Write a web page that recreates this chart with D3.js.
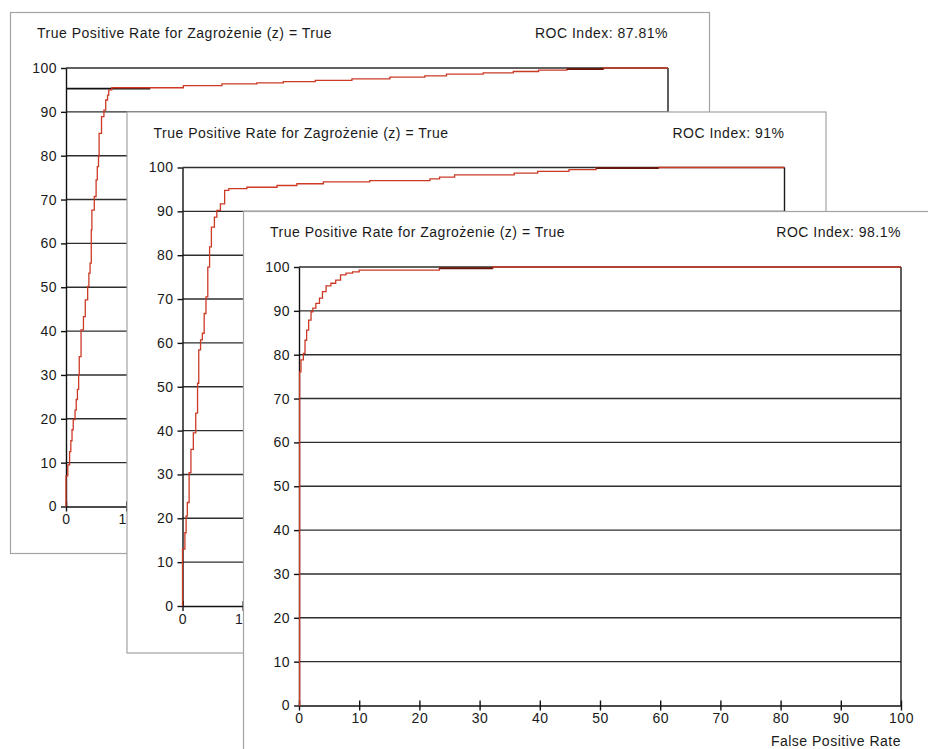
<!DOCTYPE html>
<html>
<head>
<meta charset="utf-8">
<script src="https://cdn.jsdelivr.net/npm/d3@7"></script>
<style>
  html, body { margin: 0; padding: 0; background: #fff; }
  svg { display: block; }
  text { font-family: "Liberation Sans", Arial, sans-serif; font-size: 14px; fill: #1a1a1a; letter-spacing: 0.5px; }
</style>
</head>
<body>
<svg id="chart" width="928" height="749"></svg>
<script>
// ---------- data ----------
const titleText = "True Positive Rate for Zagrożenie (z) = True";
const rocIndex = ["87.81%", "91%", "98.1%"];
const xTicks = [0, 10, 20, 30, 40, 50, 60, 70, 80, 90, 100];
const yTicks = [0, 10, 20, 30, 40, 50, 60, 70, 80, 90, 100];
const xAxisTitle = "False Positive Rate";

// ROC curves as step points [FPR %, TPR %]: at FPR the curve rises to TPR
const roc1 = [[0,0],[0,7],[0.3,8],[0.3,9.5],[0.6,12.5],[0.8,15],[1.0,17.5],[1.2,19.8],[1.5,22],[1.7,24.4],
  [1.9,26.7],[2.1,30],[2.2,34.2],[2.5,40.3],[2.9,43.3],[3.2,47.1],[3.6,50.2],[3.8,53.2],[4.0,55.5],[4.2,63.1],
  [4.3,67.6],[4.7,70.7],[5.0,74.5],[5.2,77.5],[5.4,79.8],[5.5,85.1],[5.9,88.9],[6.3,90.4],[6.6,92.7],[6.9,93.8],
  [7.1,95.0],[7.6,95.5],[19.5,96.0],[25.9,96.4],[31.7,96.6],[36.1,96.9],[41.4,97.2],[47.5,97.5],[53.8,97.9],
  [59.6,98.2],[63.2,98.6],[69.3,98.9],[74.3,99.2],[78.5,99.5],[83.2,99.8],[89.3,100],[100,100]];
const roc2 = [[0,0],[0,13],[0.4,16.7],[0.6,20.5],[0.8,23.6],[1.1,30.4],[1.4,35.7],[1.8,39.5],[2.2,44],[2.5,50.8],
  [2.7,58.4],[3.0,60.7],[3.3,62.2],[3.6,66.7],[3.9,70.5],[4.2,77.3],[4.5,81.9],[4.8,86.4],[5.3,88.7],[5.7,90.2],
  [6.3,91.7],[7.0,94.8],[7.7,95.2],[10.7,95.5],[15.7,95.9],[19.0,96.3],[23.4,96.7],[31.1,97.0],[41.1,97.4],
  [42.7,97.8],[45.2,98.3],[55.1,98.7],[59.0,99.1],[64.2,99.5],[68.7,99.9],[79.1,100],[100,100]];
const roc3 = [[0,0],[0.1,76.1],[0.33,78.8],[0.72,80.3],[1.0,83.3],[1.27,85.6],[1.6,87.9],[2.0,89.8],[2.3,90.6],
  [2.8,91.7],[3.4,92.9],[3.9,94.4],[4.5,95.7],[5.3,96.3],[6.1,97.0],[6.9,98.2],[7.8,98.6],[8.9,98.9],[10.0,99.3],
  [23.3,99.7],[32.2,100],[100,100]];

// darker (overplotted) stretches of each curve: [FPR from, FPR to, TPR]
const dark1 = [[83.2, 89.3, 99.8]];
const dark2 = [[68.7, 79.1, 99.9]];
const dark3 = [[23.3, 32.2, 99.7]];
// black reference stretch in first panel: [FPR from, FPR to, TPR]
const ref1 = [[0, 14, 95.3]];

const panels = [
  { roc: roc1, dark: dark1, ref: ref1, index: rocIndex[0] },
  { roc: roc2, dark: dark2, ref: [],   index: rocIndex[1] },
  { roc: roc3, dark: dark3, ref: [],   index: rocIndex[2] }
];

// ---------- layout ----------
const svg = d3.select("#chart");
const panelW = 699, panelH = 541;
const m = { left: 56, top: 56 };
const plotW = 602, plotH = 438.5;
const offX = 116.5, offY = 99.5;

const x = d3.scaleLinear().domain([0, 100]).range([0, plotW]);
const y = d3.scaleLinear().domain([0, 100]).range([plotH, 0]);

panels.forEach((p, i) => {
  const g = svg.append("g").attr("transform", `translate(${10 + i * offX},${12 + i * offY})`);
  g.append("rect").attr("x", 0.5).attr("y", 0.5).attr("width", panelW).attr("height", panelH)
    .attr("fill", "#fff").attr("stroke", "#a3a3a3").attr("stroke-width", 1.2);

  g.append("text").attr("x", 27).attr("y", 21).attr("dy", "0.36em").text(titleText);

  const plot = g.append("g").attr("transform", `translate(${m.left},${m.top})`);

  plot.append("text").attr("x", plotW).attr("y", 21 - m.top).attr("dy", "0.36em")
    .attr("text-anchor", "end").text("ROC Index: " + p.index);

  // gridlines
  plot.append("g").selectAll("line").data(yTicks.filter(d => d > 0)).join("line")
    .attr("x1", 0).attr("x2", plotW).attr("y1", d => y(d)).attr("y2", d => y(d))
    .attr("stroke", "#2e2e2e").attr("stroke-width", 1.4);

  // right border line
  plot.append("line").attr("x1", plotW).attr("x2", plotW).attr("y1", 0).attr("y2", plotH)
    .attr("stroke", "#1a1a1a").attr("stroke-width", 1.4);

  // y axis
  const ya = plot.append("g").call(d3.axisLeft(y).tickValues(yTicks).tickSize(5).tickPadding(4).tickSizeOuter(0));
  ya.select(".domain").attr("stroke", "#111").attr("stroke-width", 1.4);
  ya.selectAll(".tick line").attr("stroke", "#111").attr("stroke-width", 1.4);
  ya.selectAll(".tick text").attr("font-size", null).attr("font-family", null);

  // x axis
  const xa = plot.append("g").attr("transform", `translate(0,${plotH})`)
    .call(d3.axisBottom(x).tickValues(xTicks).tickSize(5).tickPadding(3).tickSizeOuter(0));
  xa.select(".domain").attr("stroke", "#111").attr("stroke-width", 1.4);
  xa.selectAll(".tick line").attr("y1", -5).attr("y2", 5).attr("stroke", "#111").attr("stroke-width", 1.4);
  xa.selectAll(".tick text").attr("font-size", null).attr("font-family", null);

  // reference stretch
  plot.append("g").selectAll("line").data(p.ref).join("line")
    .attr("x1", d => x(d[0])).attr("x2", d => x(d[1])).attr("y1", d => y(d[2])).attr("y2", d => y(d[2]))
    .attr("stroke", "#111").attr("stroke-width", 1.8);

  // curve
  const line = d3.line().x(d => x(d[0])).y(d => y(d[1])).curve(d3.curveStepAfter);
  plot.append("path").datum(p.roc).attr("d", line).attr("fill", "none")
    .attr("stroke", "#cc3a26").attr("stroke-width", 1.3).attr("stroke-linejoin", "miter");

  plot.append("g").selectAll("line").data(p.dark).join("line")
    .attr("x1", d => x(d[0])).attr("x2", d => x(d[1])).attr("y1", d => y(d[2])).attr("y2", d => y(d[2]))
    .attr("stroke", "#6a170b").attr("stroke-width", 2);
});

// x axis title on front panel
const last = panels.length - 1;
svg.append("text")
  .attr("x", 10 + last * offX + m.left + x(100))
  .attr("y", 12 + last * offY + m.top + plotH + 35)
  .attr("dy", "0.36em").attr("text-anchor", "end").text(xAxisTitle);
</script>
</body>
</html>
